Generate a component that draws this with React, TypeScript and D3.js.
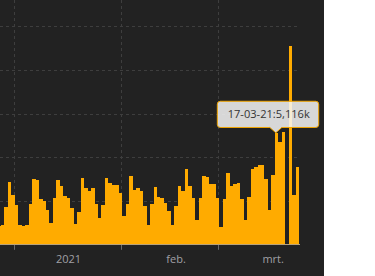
import React from "react";
import * as d3 from "d3";

// ---- data ----
const startDate = "2020-12-27";
const values: number[] = [
  // Dec 27 - Dec 31
  853, 885, 1711, 2858, 2275,
  // Jan
  1803, 885, 839, 885, 1862, 2995, 2949, 2078, 1986, 1573, 991, 2124, 2949, 2688, 2229, 2124,
  1665, 931, 1482, 3041, 2582, 2445, 2582, 1862, 1206, 1803, 3041, 2826, 2734, 2734, 2353,
  // Feb
  1312, 1849, 3133, 2504, 2582, 2459, 1771, 899, 1849, 2628, 2170, 2124, 1894, 1527,
  899, 1757, 2674, 2459, 3454, 2674, 2124, 1128, 2124, 3133, 3087, 2766, 2766, 2124,
  // Mar
  794, 2078, 3271, 2688, 2766, 2812, 2078, 1115, 2170, 3454, 3546, 3638, 3638, 2995,
  1573, 3179, 5116, 4706, 5137, 0, 9110, 2275, 3546,
];
const monthTicks = ["2021-01-01", "2021-02-01", "2021-03-01"];
const monthLabels = ["2021", "feb.", "mrt."];
const labelDates = ["2021-01-16T12:00Z", "2021-02-16T12:00Z", "2021-03-16T12:00Z"];
const yTicks = [2000, 4000, 6000, 8000, 10000];
const tooltipDate = "2021-03-17";
const tooltipText = "17-03-21:5,116k";

const W = 375;
const H = 276;
const BG = "#222222";
const BAR = "#ffab00";

export default function App() {
  const parse = (s: string) => new Date(s.length === 10 ? s + "T00:00:00Z" : s);
  const start = parse(startDate);
  const data = values.map((v, i) => ({ date: d3.utcDay.offset(start, i), value: v }));

  const x = d3
    .scaleUtc()
    .domain([parse("2021-01-01"), parse("2021-03-01")])
    .range([14.8, 219.4]);
  const y = d3.scaleLinear().domain([0, 10000]).range([244.3, 26.3]);

  const plotRight = 297;
  const darkRight = 324;
  const base = y(0);

  const tipD = parse(tooltipDate);
  const tipV = data.find((d) => +d.date === +tipD)!.value;
  const tipX = (x(tipD) + x(d3.utcDay.offset(tipD, 1))) / 2 - 0.8;
  const tipY = y(tipV);
  const L = tipX - 58.5;
  const R = L + 101.4;
  const T = tipY - 31.5;
  const B = tipY - 5.3;
  const r = 3;
  const tipPath = `M${L + r},${T} H${R - r} Q${R},${T} ${R},${T + r} V${B - r} Q${R},${B} ${R - r},${B} H${tipX + 6} L${tipX},${tipY} L${tipX - 6},${B} H${L + r} Q${L},${B} ${L},${B - r} V${T + r} Q${L},${T} ${L + r},${T} Z`;

  return (
    <div style={{ position: "fixed", left: 0, top: 0, width: W, height: H, background: "#fff" }}>
      <svg width={W} height={H} style={{ display: "block" }}>
        <rect x={0} y={0} width={darkRight} height={H} fill={BG} />
        {/* horizontal grid */}
        {yTicks.map((t) => (
          <line
            key={t}
            x1={0}
            x2={plotRight}
            y1={Math.round(y(t)) + 0.5}
            y2={Math.round(y(t)) + 0.5}
            stroke="#3e3e3e"
            strokeWidth={1}
            strokeDasharray="3,3"
          />
        ))}
        {/* vertical grid */}
        {monthTicks.map((m) => {
          const xx = Math.round(x(parse(m))) + 0.5 - 1;
          return (
            <g key={m}>
              <line x1={xx} x2={xx} y1={0} y2={base} stroke="#3e3e3e" strokeDasharray="3,3" />
              <line x1={xx} x2={xx} y1={base} y2={base + 5.5} stroke="#6a6a6a" />
            </g>
          );
        })}
        {/* bars */}
        <g shapeRendering="crispEdges">
          {data.map((d) => {
            const x0 = x(d.date);
            const x1 = x(d3.utcDay.offset(d.date, 1));
            return (
              <rect
                key={+d.date}
                x={x0}
                width={x1 - x0}
                y={y(d.value)}
                height={base - y(d.value)}
                fill={BAR}
              />
            );
          })}
        </g>
        {/* axis line */}
        <line x1={0} x2={300} y1={base + 0.2} y2={base + 0.2} stroke="#b8a27a" strokeWidth={1} />
        {/* labels */}
        {monthLabels.map((lab, i) => (
          <text
            key={lab}
            x={x(parse(labelDates[i]))}
            y={262.7}
            textAnchor="middle"
            fontFamily="'Open Sans', sans-serif"
            fontSize={11}
            fill="#a0a0a5"
          >
            {lab}
          </text>
        ))}
        {/* tooltip */}
        <path d={tipPath} fill="rgba(247,247,247,0.85)" stroke="#f0a500" strokeWidth={1} />
        <text
          x={L + 10.4}
          y={T + 17}
          fontFamily="'Open Sans', sans-serif"
          fontSize={11.5}
          fill="#333"
          textLength={82}
          lengthAdjust="spacingAndGlyphs"
        >
          {tooltipText}
        </text>
      </svg>
    </div>
  );
}
